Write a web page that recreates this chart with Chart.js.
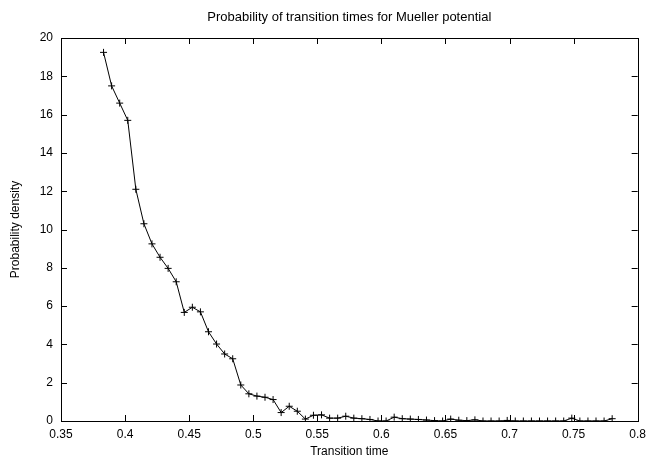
<!DOCTYPE html>
<html>
<head>
<meta charset="utf-8">
<script src="https://cdn.jsdelivr.net/npm/chart.js@4.4.1/dist/chart.umd.min.js"></script>
<style>
  html, body { margin: 0; padding: 0; background: #fff; }
  #wrap { width: 652px; height: 460px; }
</style>
</head>
<body>
<div id="wrap"><canvas id="c"></canvas></div>
<script>
const titleText = 'Probability of transition times for Mueller potential'
const xTitle = 'Transition time'
const yTitle = 'Probability density'

const times = [0.3832,0.3895,0.3958,0.4021,0.4084,0.4147,0.4210,0.4273,0.4336,0.4399,
  0.4462,0.4525,0.4588,0.4651,0.4714,0.4777,0.4840,0.4903,0.4966,0.5029,
  0.5092,0.5155,0.5218,0.5281,0.5344,0.5407,0.5470,0.5533,0.5596,0.5659,
  0.5722,0.5785,0.5848,0.5911,0.5974,0.6037,0.6100,0.6163,0.6226,0.6289,
  0.6352,0.6415,0.6478,0.6541,0.6604,0.6667,0.6730,0.6793,0.6856,0.6919,
  0.6982,0.7045,0.7108,0.7171,0.7234,0.7297,0.7360,0.7423,0.7486,0.7549,
  0.7612,0.7675,0.7738,0.7801]
const density = [19.25,17.5,16.6,15.7,12.1,10.3,9.25,8.55,7.97,7.27,
  5.67,5.94,5.7,4.66,4.02,3.5,3.25,1.88,1.42,1.3,
  1.24,1.12,0.44,0.77,0.51,0.1,0.3,0.32,0.15,0.15,
  0.25,0.15,0.12,0.08,0.0,0.0,0.2,0.12,0.1,0.08,
  0.05,0.02,0.0,0.1,0.04,0.02,0.06,0.0,0.0,0.0,
  0.03,0.0,0.0,0.0,0.0,0.0,0.0,0.0,0.15,0.0,
  0.0,0.0,0.0,0.12]

const font = { family: '"Liberation Sans", Arial, sans-serif', size: 12 }
Chart.defaults.color = '#000'

// gnuplot style box + inward ticks on every side
const boxTicks = {
  id: 'boxTicks',
  afterDraw(chart) {
    const {ctx, chartArea: a, scales} = chart
    const len = 6
    ctx.save()
    ctx.strokeStyle = '#000'
    ctx.lineWidth = 1
    ctx.beginPath()
    scales.x.ticks.forEach(t => {
      const px = Math.round(scales.x.getPixelForValue(t.value)) + 0.5
      ctx.moveTo(px, a.bottom); ctx.lineTo(px, a.bottom - len)
      ctx.moveTo(px, a.top); ctx.lineTo(px, a.top + len)
    })
    scales.y.ticks.forEach(t => {
      const py = Math.round(scales.y.getPixelForValue(t.value)) + 0.5
      ctx.moveTo(a.left, py); ctx.lineTo(a.left + len, py)
      ctx.moveTo(a.right, py); ctx.lineTo(a.right - len, py)
    })
    ctx.stroke()
    ctx.strokeRect(Math.round(a.left) + 0.5, Math.round(a.top) + 0.5,
      Math.round(a.right - a.left), Math.round(a.bottom - a.top))
    ctx.restore()
  }
}

new Chart(document.getElementById('c'), {
  type: 'line',
  data: {
    datasets: [{
      data: times.map((t, i) => ({x: t, y: density[i]})),
      borderColor: '#000',
      borderWidth: 1,
      pointStyle: 'cross',
      pointRadius: 3.5,
      pointBorderColor: '#000',
      pointBorderWidth: 1,
      tension: 0,
      fill: false
    }]
  },
  options: {
    responsive: true,
    maintainAspectRatio: false,
    animation: false,
    layout: { padding: { left: 0, right: 11, top: 0, bottom: 0 } },
    plugins: {
      legend: { display: false },
      tooltip: { enabled: false },
      title: {
        display: true,
        text: titleText,
        fullSize: false,
        font: { ...font, size: 13, weight: 'normal' },
        padding: { top: 9.2, bottom: 13.2 }
      }
    },
    scales: {
      x: {
        type: 'linear',
        min: 0.35, max: 0.8,
        grid: { display: false, drawTicks: false },
        border: { display: false },
        ticks: { stepSize: 0.05, padding: 6, font, callback: v => String(+v.toFixed(2)) },
        title: { display: true, text: xTitle, font, padding: { top: 0, bottom: 1 } },
        afterFit: s => { s.height = 39 }
      },
      y: {
        min: 0, max: 20,
        grid: { display: false, drawTicks: false },
        border: { display: false },
        ticks: { stepSize: 2, padding: 8, font },
        title: { display: true, text: yTitle, font, padding: { top: 8, bottom: 0 } },
        afterFit: s => { s.width = 61 }
      }
    }
  },
  plugins: [boxTicks]
})
</script>
</body>
</html>
